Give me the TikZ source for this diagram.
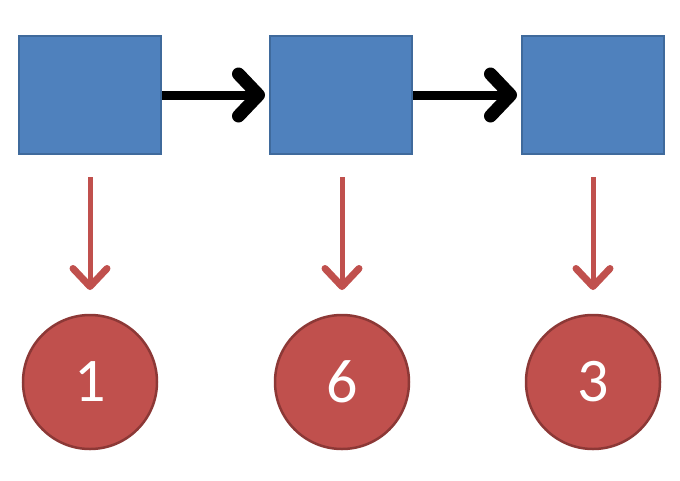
\documentclass[tikz,border=0pt]{standalone}
\usepackage{fontspec}
\setmainfont{Carlito}
\usetikzlibrary{arrows.meta}
\definecolor{boxfill}{HTML}{4F81BD}
\definecolor{boxline}{HTML}{3F6A9C}
\definecolor{circfill}{HTML}{C0504D}
\definecolor{circline}{HTML}{8C3836}
\definecolor{redarrow}{HTML}{C0504D}
\tikzset{
  listbox/.style={draw=boxline, line width=2pt, fill=boxfill, minimum width=142pt, minimum height=118pt, inner sep=0pt},
  valcirc/.style={circle, draw=circline, line width=2.5pt, fill=circfill, minimum size=134pt, inner sep=0pt, text=white, font=\fontsize{62}{62}\selectfont},
  nextarrow/.style={line width=9pt, black, -{Straight Barb[length=20pt, width=42pt, line width=13pt, round]}, shorten >=4pt},
  valarrow/.style={line width=5pt, redarrow, -{Straight Barb[length=18pt, width=34pt, line width=7pt, round]}}
}
\begin{document}
\begin{tikzpicture}[x=1pt,y=-1pt]
\useasboundingbox (0,0) rectangle (680,480);
\node[listbox] (b1) at (90,95) {};
\node[listbox] (b2) at (341,95) {};
\node[listbox] (b3) at (593,95) {};
\node[valcirc] (c1) at (90,382) {1};
\node[valcirc] (c2) at (342,382) {6};
\node[valcirc] (c3) at (593,382) {3};
\coordinate (s1) at (90,177);
\coordinate (s2) at (342,177);
\coordinate (s3) at (593,177);
\coordinate (e1) at (90,290);
\coordinate (e2) at (342,290);
\coordinate (e3) at (593,290);
\draw[nextarrow] (b1.east) -- (b2.west);
\draw[nextarrow] (b2.east) -- (b3.west);
\draw[valarrow] (s1) -- (e1);
\draw[valarrow] (s2) -- (e2);
\draw[valarrow] (s3) -- (e3);
\end{tikzpicture}
\end{document}
